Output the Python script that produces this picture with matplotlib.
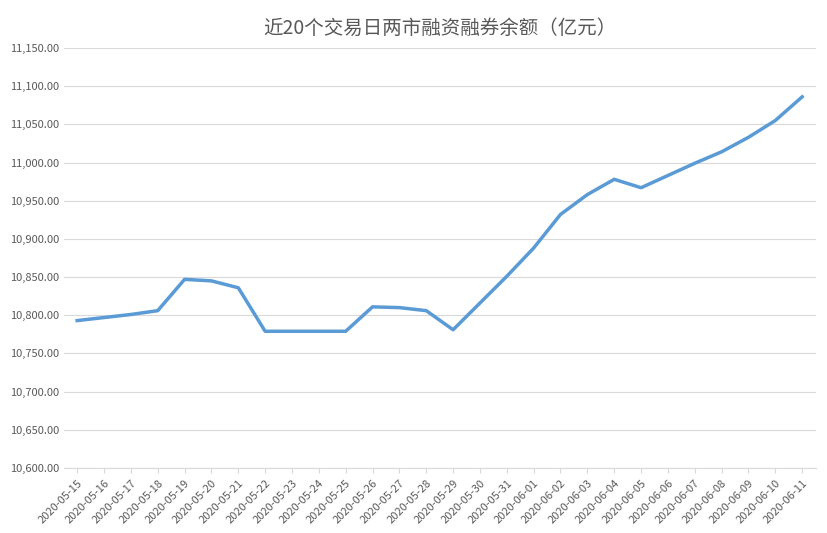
import matplotlib
matplotlib.use("Agg")
import matplotlib.pyplot as plt

plt.rcParams['font.family'] = ['Noto Sans CJK SC', 'DejaVu Sans']

dates = ["2020-05-15", "2020-05-16", "2020-05-17", "2020-05-18", "2020-05-19", "2020-05-20",
         "2020-05-21", "2020-05-22", "2020-05-23", "2020-05-24", "2020-05-25", "2020-05-26",
         "2020-05-27", "2020-05-28", "2020-05-29", "2020-05-30", "2020-05-31", "2020-06-01",
         "2020-06-02", "2020-06-03", "2020-06-04", "2020-06-05", "2020-06-06", "2020-06-07",
         "2020-06-08", "2020-06-09", "2020-06-10", "2020-06-11"]
balance = [10793, 10797, 10801, 10806, 10847, 10845, 10836, 10779, 10779, 10779, 10779, 10811,
           10810, 10806, 10781, 10816, 10851, 10888, 10932, 10958, 10978, 10967, 10983, 10999,
           11014, 11033, 11055, 11086]

fig, ax = plt.subplots(figsize=(8.28, 5.33), dpi=100)
fig.subplots_adjust(left=0.077, right=0.985, top=0.91, bottom=0.122)
ax.plot(range(len(dates)), balance, color="#5b9bd5", linewidth=2.5)
ax.set_ylim(10600, 11150)
ax.set_yticks(range(10600, 11151, 50))
ax.set_yticklabels([f"{v:,.2f}" for v in range(10600, 11151, 50)], fontsize=8, color="#595959")
ax.set_xlim(-0.5, len(dates) - 0.5)
ax.set_xticks(range(len(dates)))
ax.set_xticklabels(dates, rotation=45, ha="right", rotation_mode="anchor", fontsize=8, color="#595959")
ax.grid(axis="y", color="#d9d9d9", linewidth=0.8)
ax.set_axisbelow(True)
for s in ["top", "right", "left"]:
    ax.spines[s].set_visible(False)
ax.spines["bottom"].set_color("#d9d9d9")
ax.tick_params(axis="y", length=0)
ax.tick_params(axis="x", color="#d9d9d9")
ax.set_title("近20个交易日两市融资融券余额（亿元）", fontsize=14, color="#595959", pad=10)
plt.savefig("out.png", dpi=100)
